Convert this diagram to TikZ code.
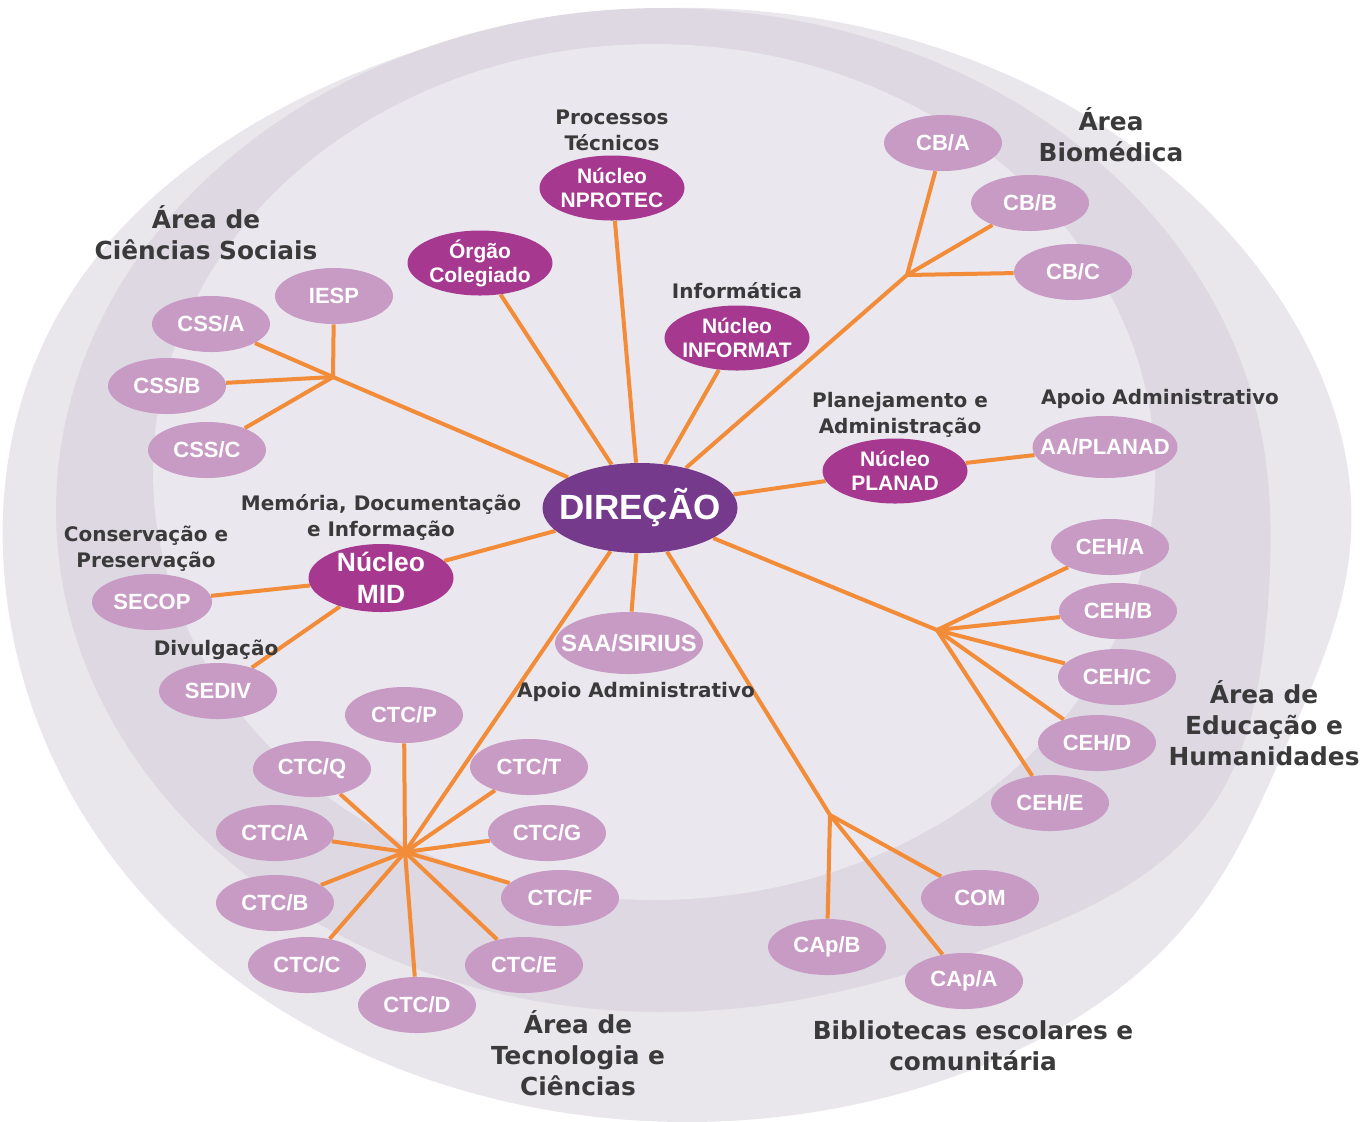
\documentclass[tikz,border=0pt]{standalone}
\usepackage{fontspec}
\usetikzlibrary{shapes.geometric}
\newfontfamily\labfont{DejaVu Sans}
\newfontfamily\nodefont{Liberation Sans}
\definecolor{outerbg}{HTML}{E9E6EC}
\definecolor{ringbg}{HTML}{DDD8E2}
\definecolor{innerbg}{HTML}{EAE7EE}
\definecolor{orangeline}{HTML}{F28C38}
\definecolor{dirpurple}{HTML}{763A8D}
\definecolor{nucmag}{HTML}{A6388F}
\definecolor{lightnode}{HTML}{C89BC5}
\definecolor{labgray}{HTML}{3A3A3A}
\pgfdeclarelayer{back}
\pgfdeclarelayer{lines}
\pgfsetlayers{back,lines,main}
\tikzset{
  ntext/.style={text=white, font=\nodefont\bfseries\fontsize{10.5}{12}\selectfont, align=center, inner sep=0pt},
  lnode/.style={ellipse, fill=lightnode, text=white, font=\nodefont\bfseries\fontsize{11}{12}\selectfont, minimum width=59pt, minimum height=28pt, inner sep=0pt},
  widenode/.style={ellipse, fill=lightnode, minimum width=72.5pt, minimum height=31pt, inner sep=0pt, label={[ntext, font=\nodefont\bfseries\fontsize{11}{12}\selectfont]center:{#1}}},
  nnode/.style={ellipse, fill=nucmag, minimum width=72.5pt, minimum height=32.5pt, inner sep=0pt, label={[ntext]center:{#1}}},
  dirnode/.style={ellipse, fill=dirpurple, minimum width=97.5pt, minimum height=45pt, inner sep=0pt, label={[ntext, font=\nodefont\bfseries\fontsize{17.5}{20}\selectfont]center:{#1}}},
  lab/.style={text=labgray, font=\labfont\bfseries\fontsize{10}{13}\selectfont, align=center, inner sep=0pt},
  area/.style={text=labgray, font=\labfont\bfseries\fontsize{12.4}{15.5}\selectfont, align=center, inner sep=0pt},
  conn/.style={draw=orangeline, line width=2pt}
}
\begin{document}
\begin{tikzpicture}[x=0.5pt,y=-0.5pt,
  declare function={
    cb(\t)=0.5+0.5*cos(\t);
    bfour(\t)=cb(\t)*cb(\t)*cb(\t)*cb(\t);
    bsixteen(\t)=bfour(\t)*bfour(\t)*bfour(\t)*bfour(\t);
    bthirtytwo(\t)=bsixteen(\t)*bsixteen(\t);
    mone(\t)=1-0.055*bthirtytwo(\t-20)+0.035*bsixteen(\t+151);
    mtwo(\t)=1+0.085*bthirtytwo(\t-36);
  }]
\useasboundingbox (0,0) rectangle (1363,1121);
\begin{pgfonlayer}{back}
\fill[white] (0,0) rectangle (1363,1121);
\fill[outerbg] plot[domain=-180:177.5, samples=144, smooth cycle, variable=\x]
  ({687+675*cos(\x)*mone(\x)}, {565+557*sin(\x)*mone(\x)});
\fill[ringbg] plot[domain=-180:177.5, samples=144, smooth cycle, variable=\x]
  ({662+606*cos(\x)*mtwo(\x)}, {510+502*sin(\x)*mtwo(\x)});
\fill[innerbg] (654,472) ellipse [x radius=250.5pt, y radius=214pt];
\end{pgfonlayer}

% central node
\node[dirnode={DIREÇÃO}] (dir) at (640,508) {};

% nucleus nodes
\node[nnode={Núcleo\\NPROTEC}] (nprotec) at (612,188) {};
\node[nnode={Órgão\\Colegiado}] (orgao) at (480,263) {};
\node[nnode={Núcleo\\INFORMAT}] (informat) at (737,338) {};
\node[nnode={Núcleo\\PLANAD}] (planad) at (895,471) {};
\node[ellipse, fill=nucmag, minimum width=72.5pt, minimum height=34pt, inner sep=0pt,
  label={[ntext, font=\nodefont\bfseries\fontsize{13.2}{16}\selectfont]center:{Núcleo\\MID}}] (mid) at (381,578) {};

% light nodes
\node[widenode={AA/PLANAD}] (aaplanad) at (1105,447) {};
\node[lnode] (cba) at (943,143) {CB/A};
\node[lnode] (cbb) at (1030,203) {CB/B};
\node[lnode] (cbc) at (1073,272) {CB/C};
\node[lnode] (iesp) at (334,296) {IESP};
\node[lnode] (cssa) at (211,324) {CSS/A};
\node[lnode] (cssb) at (167,386) {CSS/B};
\node[lnode] (cssc) at (207,450) {CSS/C};
\node[lnode, minimum width=60pt] (secop) at (152,602) {SECOP};
\node[lnode] (sediv) at (218,691) {SEDIV};
\node[widenode={\fontsize{11.8}{13}\selectfont SAA/SIRIUS}, minimum width=74pt] (saa) at (629,643) {};
\node[lnode] (ctcp) at (404,715) {CTC/P};
\node[lnode] (ctcq) at (312,769) {CTC/Q};
\node[lnode] (ctct) at (529,767) {CTC/T};
\node[lnode] (ctca) at (275,833) {CTC/A};
\node[lnode] (ctcg) at (547,833) {CTC/G};
\node[lnode] (ctcb) at (275,903) {CTC/B};
\node[lnode] (ctcf) at (560,898) {CTC/F};
\node[lnode] (ctcc) at (307,965) {CTC/C};
\node[lnode] (ctce) at (524,965) {CTC/E};
\node[lnode] (ctcd) at (417,1005) {CTC/D};
\node[lnode] (ceha) at (1110,547) {CEH/A};
\node[lnode] (cehb) at (1118,611) {CEH/B};
\node[lnode] (cehc) at (1117,677) {CEH/C};
\node[lnode] (cehd) at (1097,743) {CEH/D};
\node[lnode] (cehe) at (1050,803) {CEH/E};
\node[lnode] (com) at (980,898) {COM};
\node[lnode] (capb) at (827,947) {CAp/B};
\node[lnode] (capa) at (964,981) {CAp/A};

% hubs
\coordinate (hcss) at (333,377);
\coordinate (hcb) at (907,275);
\coordinate (hceh) at (937,630);
\coordinate (hctc) at (405,852);
\coordinate (hbib) at (830,815);

% labels
\node[lab] (lproc) at (612,130) {Processos\\Técnicos};
\node[lab] (linfo) at (737,291) {Informática};
\node[lab] (lplan) at (900,415) {Planejamento e\\Administração};
\node[lab] (lapoio1) at (1160,399) {Apoio Administrativo};
\node[lab] (lmem) at (381,517) {Memória, Documentação\\e Informação};
\node[lab] (lcons) at (146,549) {Conservação e\\Preservação};
\node[lab] (ldiv) at (216,650) {Divulgação};
\node[lab] (lapoio2) at (636,692) {Apoio Administrativo};

\node[area] (acs) at (206,233) {Área de\\Ciências Sociais};
\node[area] (abio) at (1111,135) {Área\\Biomédica};
\node[area] (aeh) at (1264,723) {Área de\\Educação e\\Humanidades};
\node[area] (atc) at (578,1053) {Área de\\Tecnologia e\\Ciências};
\node[area] (abib) at (973,1046) {Bibliotecas escolares e\\comunitária};

% connectors
\begin{pgfonlayer}{lines}
\draw[conn] (dir) -- (nprotec);
\draw[conn] (dir) -- (orgao);
\draw[conn] (dir) -- (informat);
\draw[conn] (dir) -- (planad);
\draw[conn] (planad) -- (aaplanad);
\draw[conn] (dir) -- (mid);
\draw[conn] (mid) -- (secop);
\draw[conn] (mid) -- (sediv);
\draw[conn] (dir) -- (saa);
\draw[conn] (dir) -- (hcss);
\foreach \n in {iesp,cssa,cssb,cssc} \draw[conn] (hcss) -- (\n);
\draw[conn] (dir) -- (hcb);
\foreach \n in {cba,cbb,cbc} \draw[conn] (hcb) -- (\n);
\draw[conn] (dir) -- (hceh);
\foreach \n in {ceha,cehb,cehc,cehd,cehe} \draw[conn] (hceh) -- (\n);
\draw[conn] (dir) -- (hctc);
\foreach \n in {ctcp,ctcq,ctct,ctca,ctcg,ctcb,ctcf,ctcc,ctce,ctcd} \draw[conn] (hctc) -- (\n);
\draw[conn] (dir) -- (hbib);
\foreach \n in {com,capb,capa} \draw[conn] (hbib) -- (\n);
\end{pgfonlayer}
\end{tikzpicture}
\end{document}
